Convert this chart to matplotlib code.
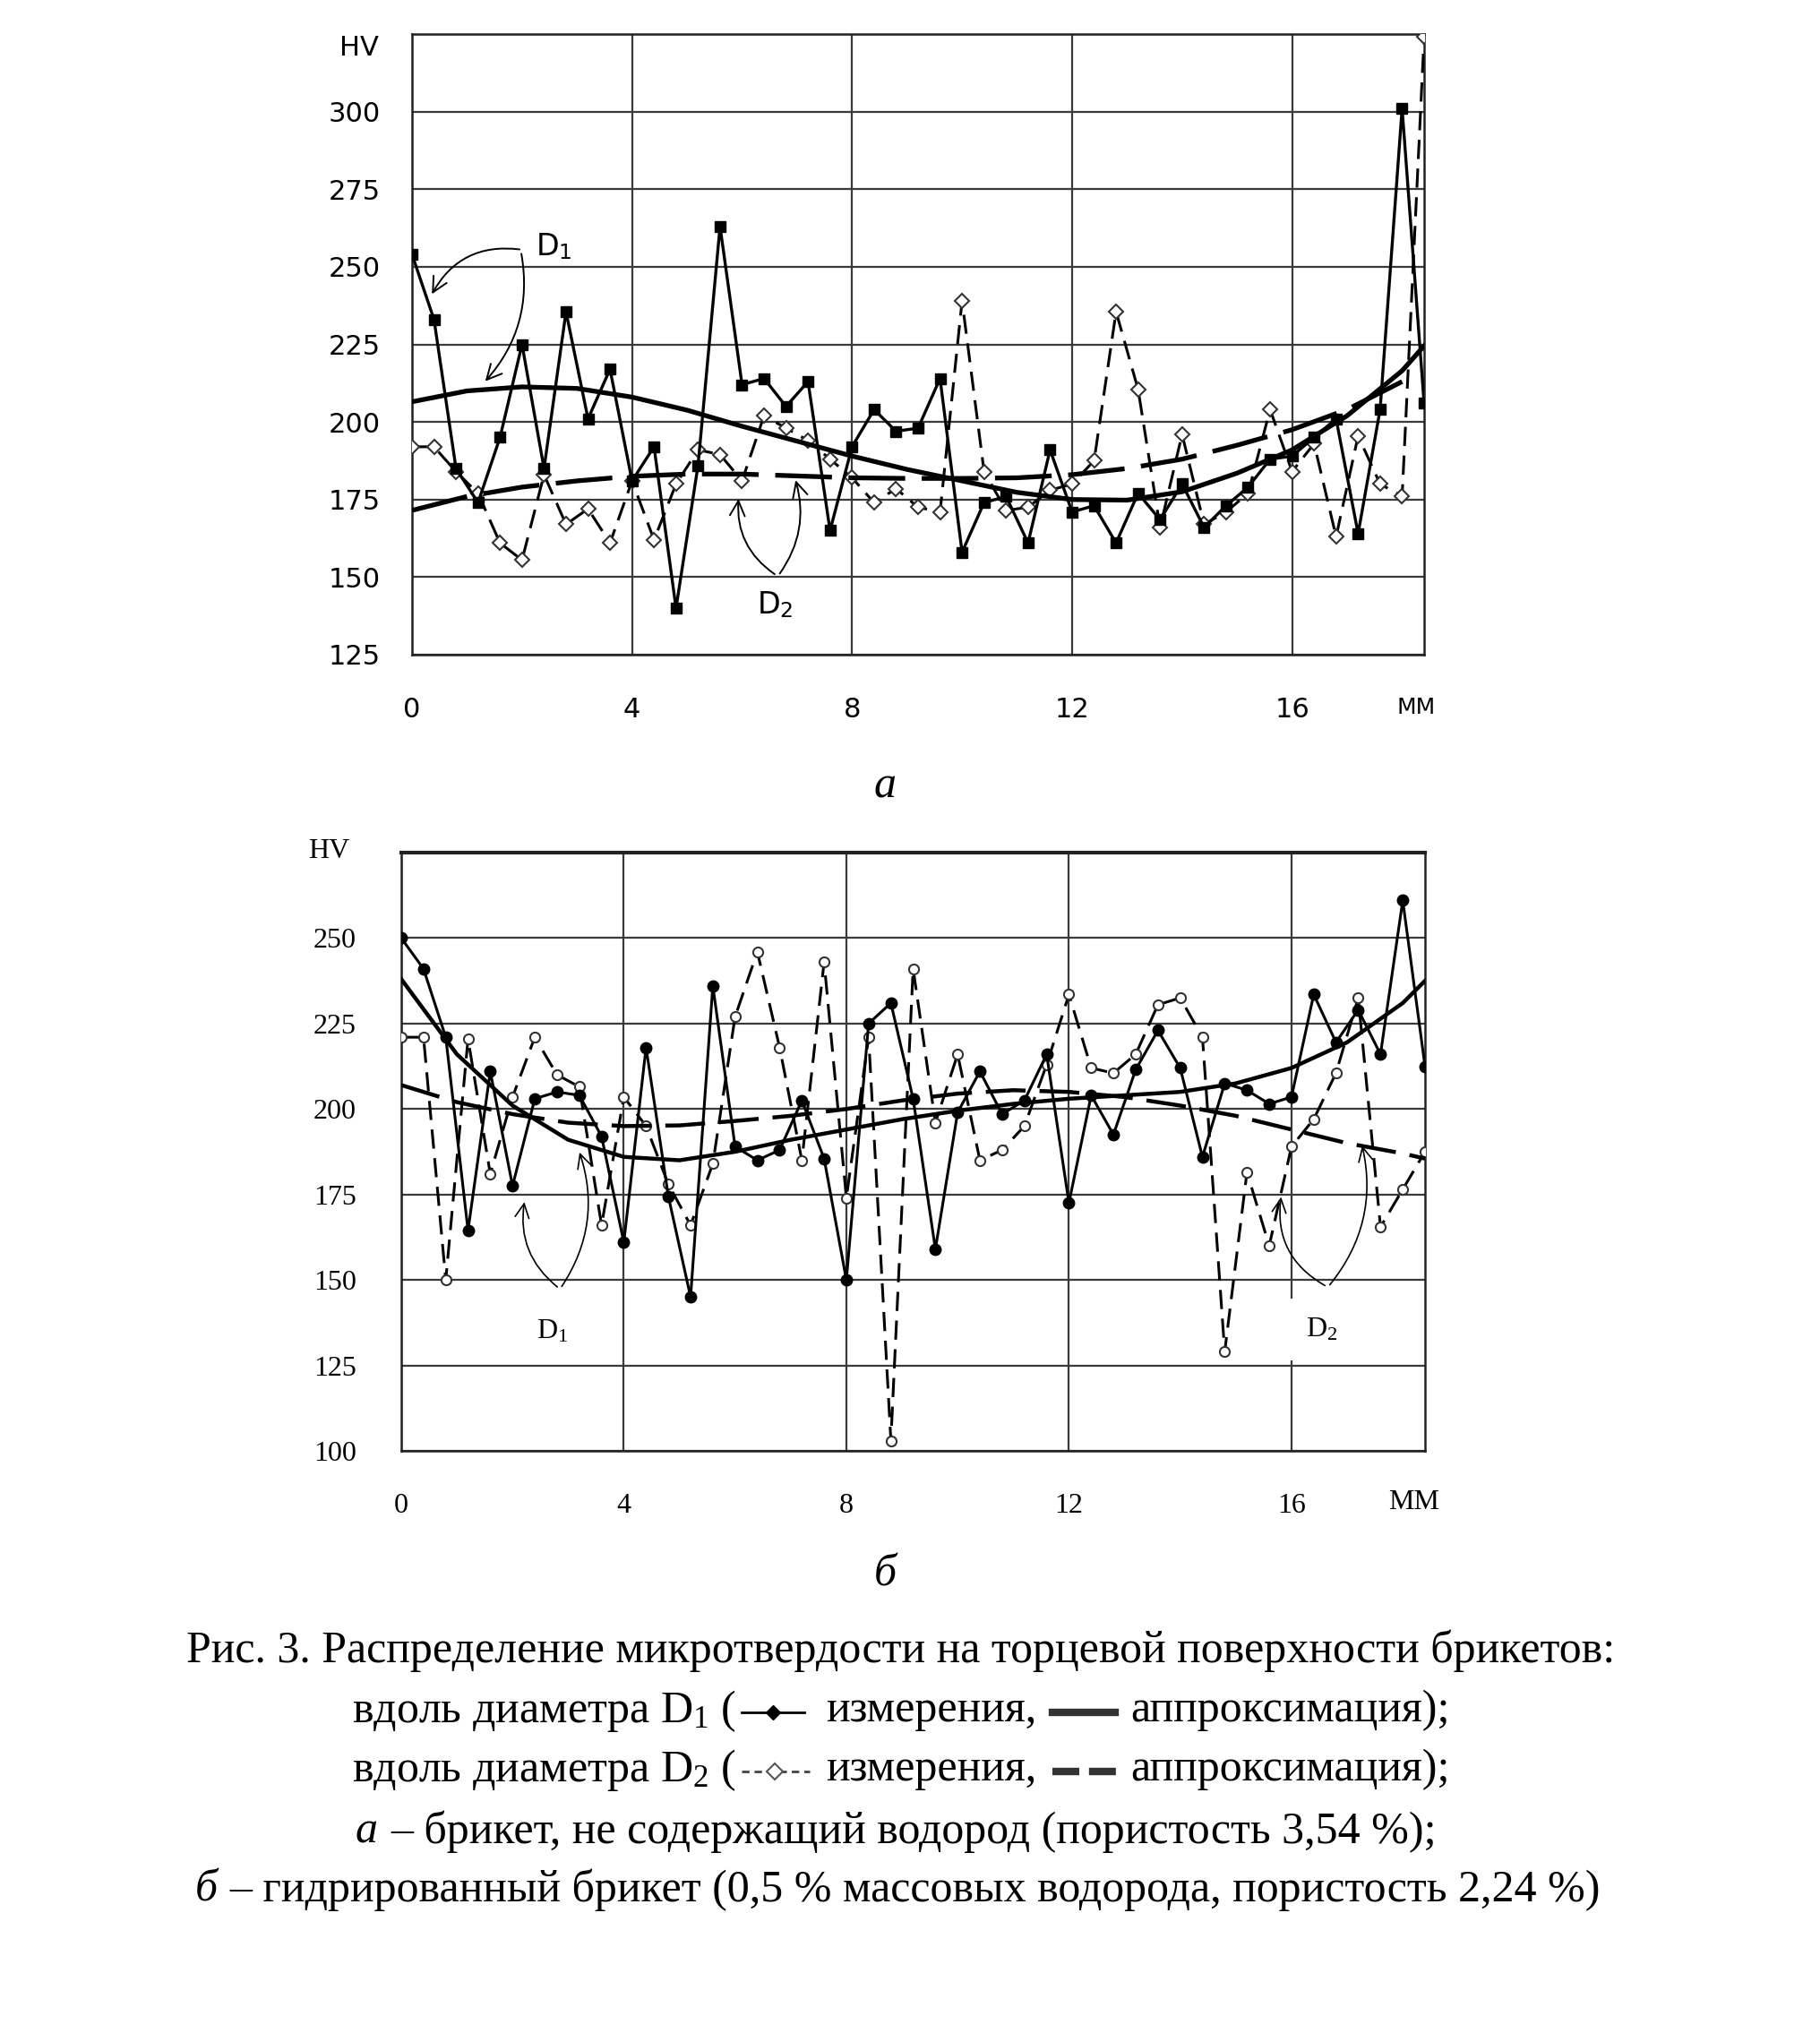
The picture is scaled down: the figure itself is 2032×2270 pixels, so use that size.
import numpy as np
import matplotlib
matplotlib.use('Agg')
import matplotlib.pyplot as plt
from matplotlib.lines import Line2D

plt.rcParams['mathtext.fontset'] = 'custom'
plt.rcParams['mathtext.rm'] = 'Liberation Serif'
plt.rcParams['mathtext.sf'] = 'DejaVu Sans'
plt.rcParams['mathtext.it'] = 'Liberation Serif:italic'

W, H = 2032, 2270

# measurement positions along the diameter, mm (step 0.4 mm)
x_mm = np.round(np.arange(0, 18.41, 0.4), 1)

# --- a: brick without hydrogen ---
a_d1 = [254, 233, 185, 174, 195, 225, 185, 235.5, 201, 217,
        181, 192, 140, 186, 263, 212, 214, 205, 213, 165,
        192, 204, 197, 198, 214, 158, 174, 176, 161, 191,
        171, 173, 161, 177, 168.5, 180, 166, 173, 179, 188,
        189, 195, 201, 164, 204, 301, 206]
a_d2 = [192, 192, 184, 177, 161, 155.5, 183, 167, 172, 161,
        181, 162, 180, 191, 189.5, 181, 202, 198, 194, 188,
        182, 174, 178.5, 172.5, 171, 239, 184, 171.5, 172.5, 178,
        180, 187.5, 235.5, 210.5, 166, 196, 167, 171, 177, 204,
        184, 193, 163, 195.5, 180, 176, 324]
# approximation curves
a_fit1_x = [0, 1, 2, 3, 4, 5, 6, 7, 8, 9, 10, 11, 12, 13, 14, 15, 16, 17, 18, 18.4]
a_fit1 = [206.5, 210, 211.3, 210.8, 208, 203.8, 198.6, 193.8, 189, 184.7,
          181, 177.3, 175, 174.8, 177.5, 183.5, 191, 202, 216.5, 224.5]
a_fit2_x = [0, 1, 2, 3, 4, 5, 6, 7, 8, 9, 10, 11, 12, 13, 14, 15, 16, 17, 18]
a_fit2 = [171.5, 176, 179, 181, 182.5, 183.2, 183.2, 182.6, 182, 181.8,
          181.8, 182, 183, 185, 188, 192.5, 197.5, 204, 213]

# --- б: hydrogenated brick ---
b_d1 = [250, 241, 221, 164.5, 211, 177.5, 203, 205, 204, 192,
        161, 218, 174.5, 145, 236, 189, 185, 188, 202.5, 185.5,
        150, 225, 231, 203, 159, 199, 211, 198.5, 202.5, 216,
        172.5, 204, 192.5, 211.5, 223, 212, 186, 207.5, 205.5, 201.5,
        203.5, 233.5, 219.5, 229, 216, 261, 212.5]
b_d2 = [221, 221, 150, 220.5, 181, 203.5, 221, 210, 206.5, 166,
        203.5, 195, 178, 166, 184, 227, 246, 218, 185, 243,
        174, 221, 103, 241, 196, 216, 185, 188, 195, 213,
        233.5, 212, 210.5, 216, 230.5, 232.5, 221, 129, 181.5, 160,
        189, 197, 210.5, 232.5, 165.5, 176.5, 187.5]
b_fit1_x = [0, 1, 2, 3, 4, 5, 6, 7, 8, 9, 10, 11, 12, 13, 14, 15, 16, 17, 18, 18.4]
b_fit1 = [238, 216, 201, 191, 186, 185, 187.5, 191, 194, 197,
          199.5, 201.5, 203, 204, 205, 207.5, 212, 219.5, 231, 237.5]
b_fit2_x = [0, 1, 2, 3, 4, 5, 6, 7, 8, 9, 10, 11, 12, 13, 14, 15, 16, 17, 18, 18.4]
b_fit2 = [207, 202, 198.5, 196, 195, 195.2, 196.5, 198, 200, 202.5,
          204.5, 205.5, 205, 203.5, 201, 198, 194, 190, 187, 185.5]

SANS = 'DejaVu Sans'
SERIF = 'Liberation Serif'

fig = plt.figure(figsize=(W / 100, H / 100), dpi=100)


def box(left, top, right, bottom):
    return [left / W, 1 - bottom / H, (right - left) / W, (bottom - top) / H]


def setup(ax, ylim, yticks, font, fsize, xpad, ypad):
    ax.set_xlim(0, 18.4)
    ax.set_ylim(*ylim)
    ax.set_xticks([0, 4, 8, 12, 16])
    ax.set_yticks(yticks)
    ax.grid(True, color='#3a3a3a', lw=1.6)
    ax.set_axisbelow(True)
    ax.tick_params(length=0, labelsize=fsize, pad=xpad, axis='x')
    ax.tick_params(length=0, labelsize=fsize, pad=ypad, axis='y')
    for lab in ax.get_xticklabels() + ax.get_yticklabels():
        lab.set_family(font)
    for s in ax.spines.values():
        s.set_color('#222222')
        s.set_linewidth(1.8)


# ---------------- chart a ----------------
ax1 = fig.add_axes(box(460, 38, 1590, 731))
setup(ax1, (125, 325), [125, 150, 175, 200, 225, 250, 275, 300, 325], SANS, 22, 34, 25)
ax1.set_yticklabels(['125', '150', '175', '200', '225', '250', '275', '300', ''])
ax1.text(-0.6, 320.5, 'HV', ha='right', va='center', fontsize=22, family=SANS)
ax1.text(18.25, 125 - 13.5, 'ММ', ha='center', va='top', fontsize=18, family=SANS,
         clip_on=False)

ax1.plot(x_mm, a_d2, color='k', lw=2.2, dashes=(7, 3.5),
         marker='D', ms=8, mfc='white', mec='#333333', mew=1.5, zorder=3)
ax1.plot(x_mm, a_d1, color='k', lw=2.4,
         marker='s', ms=8, mfc='k', mec='k', zorder=4)
ax1.plot(a_fit1_x, a_fit1, color='k', lw=3.8, zorder=5)
ax1.plot(a_fit2_x, a_fit2, color='k', lw=3.8, dashes=(12, 3.5), zorder=5)

arw = dict(arrowstyle='->', color='k', lw=1.4, mutation_scale=30)
ax1.text(2.25, 256.5, 'D$_\\mathsf{1}$', fontsize=24, family=SANS, va='center')
ax1.annotate('', xy=(0.34, 240.5), xytext=(2.0, 255.5),
             arrowprops=dict(arw, connectionstyle='arc3,rad=0.35'))
ax1.annotate('', xy=(1.3, 212.5), xytext=(1.98, 255),
             arrowprops=dict(arw, connectionstyle='arc3,rad=-0.25'))
ax1.text(6.6, 141, 'D$_\\mathsf{2}$', fontsize=24, family=SANS, va='center', ha='center')
ax1.annotate('', xy=(5.94, 176), xytext=(6.63, 150.5),
             arrowprops=dict(arw, connectionstyle='arc3,rad=-0.3'))
ax1.annotate('', xy=(6.96, 182), xytext=(6.66, 150.5),
             arrowprops=dict(arw, connectionstyle='arc3,rad=0.25'))

# ---------------- chart б ----------------
ax2 = fig.add_axes(box(448, 952, 1591, 1620))
setup(ax2, (100, 275), [100, 125, 150, 175, 200, 225, 250, 275], SERIF, 23, 34, 36)
ax2.set_yticklabels(['100', '125', '150', '175', '200', '225', '250', ''])
ax2.spines['top'].set_linewidth(3)
ax2.text(-0.92, 275.5, 'HV', ha='right', va='center', fontsize=23, family=SERIF)
ax2.text(18.2, 100 - 15, 'ММ', ha='center', va='center', fontsize=23, family=SERIF,
         clip_on=False)

ax2.plot(x_mm, b_d2, color='k', lw=2.2, dashes=(7, 3.5),
         marker='o', ms=8, mfc='white', mec='#333333', mew=1.5, zorder=3)
ax2.plot(x_mm, b_d1, color='k', lw=2.2,
         marker='o', ms=9, mfc='k', mec='k', zorder=4)
ax2.plot(b_fit1_x, b_fit1, color='k', lw=3.2, zorder=5)
ax2.plot(b_fit2_x, b_fit2, color='k', lw=3.2, dashes=(10, 3.5), zorder=5)

arw2 = dict(arrowstyle='->', color='k', lw=1.2, mutation_scale=28)
ax2.text(2.72, 135, 'D$_\\mathrm{1}$', fontsize=23, family=SERIF, va='center', ha='center')
ax2.annotate('', xy=(2.22, 173.5), xytext=(2.84, 147.5),
             arrowprops=dict(arw2, connectionstyle='arc3,rad=-0.3'))
ax2.annotate('', xy=(3.19, 188), xytext=(2.86, 147.5),
             arrowprops=dict(arw2, connectionstyle='arc3,rad=0.25'))
ax2.text(16.54, 135.5, 'D$_\\mathrm{2}$', fontsize=23, family=SERIF, va='center', ha='center',
         bbox=dict(facecolor='white', edgecolor='none', pad=14), zorder=6)
ax2.annotate('', xy=(15.82, 175), xytext=(16.64, 148),
             arrowprops=dict(arw2, connectionstyle='arc3,rad=-0.35'))
ax2.annotate('', xy=(17.26, 190), xytext=(16.66, 148),
             arrowprops=dict(arw2, connectionstyle='arc3,rad=0.25'))

# ---------------- captions ----------------
CAP = 36


def ftext(px, py, s, **kw):
    kw.setdefault('fontsize', CAP)
    kw.setdefault('family', SERIF)
    kw.setdefault('va', 'center')
    fig.text(px / W, 1 - py / H, s, **kw)


ftext(988, 878, 'а', ha='center', style='italic')
ftext(988, 1758, 'б', ha='center', style='italic')

ftext(1006, 1843, 'Рис. 3. Распределение микротвердости на торцевой поверхности брикетов:', ha='center')

for row, (py, sub) in enumerate([(1910, '1'), (1976, '2')]):
    ftext(822, py, 'вдоль диаметра D$_\\mathrm{' + sub + '}$ (', ha='right')
    ftext(922, py, 'измерения,', ha='left')
    ftext(1262, py, 'аппроксимация);', ha='left')
    yy = 1 - (py + 2) / H
    if row == 0:
        fig.add_artist(Line2D([828 / W, 898 / W], [yy, yy], color='k', lw=2))
        fig.add_artist(Line2D([863 / W], [yy], marker='D', ms=8, color='k'))
        fig.add_artist(Line2D([1175 / W, 1245 / W], [yy, yy], color='#333333', lw=6))
    else:
        fig.add_artist(Line2D([828 / W, 904 / W], [yy, yy], color='#444444', lw=2,
                              dashes=(3, 2)))
        fig.add_artist(Line2D([865 / W], [yy], marker='D', ms=9, mfc='white',
                              mec='#555555', mew=1.5))
        fig.add_artist(Line2D([1175 / W, 1248 / W], [yy, yy], color='#333333', lw=6,
                              dashes=(3.6, 1.3)))

ftext(397, 2045, 'а', ha='left', style='italic')
ftext(436, 2045, '– брикет, не содержащий водород (пористость 3,54 %);', ha='left')
ftext(218, 2110, 'б', ha='left', style='italic')
ftext(256, 2110, '– гидрированный брикет (0,5 % массовых водорода, пористость 2,24 %)', ha='left')

fig.savefig('out.png', dpi=100, facecolor='white')
